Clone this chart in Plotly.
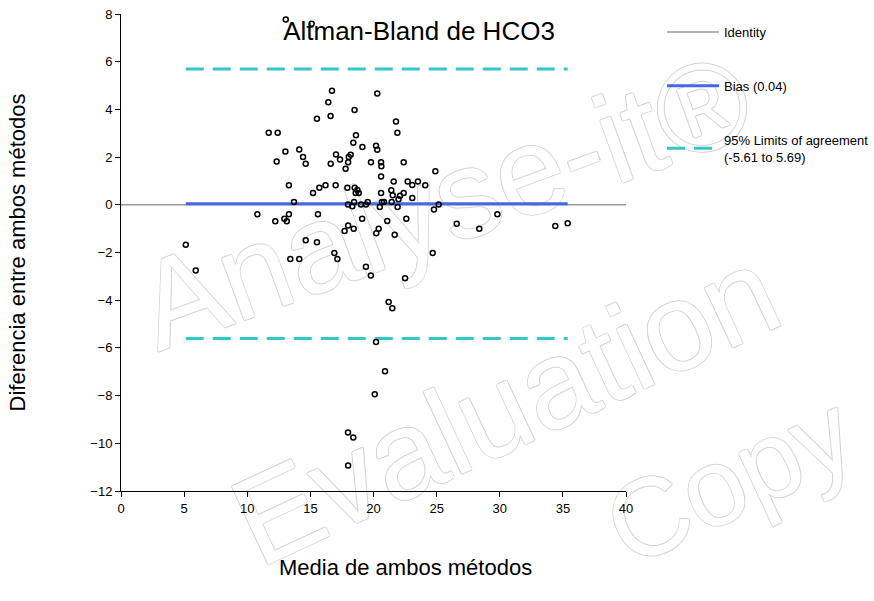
import plotly.graph_objects as go

# ---- data ----
mean_vals = [13.05, 15.10, 16.71, 16.42, 16.60, 15.52, 18.50, 11.70, 12.41, 18.61,
             20.30, 21.78, 21.89, 13.02, 14.12, 14.42, 18.40, 19.12, 20.20, 20.30,
             17.03, 18.19, 18.04, 17.35, 12.33, 14.63, 16.61, 17.99, 17.79, 19.80,
             20.60, 20.62, 22.39, 20.60, 24.90, 13.30, 15.71, 16.20, 17.00, 15.21,
             17.93, 18.51, 18.59, 18.83, 18.72, 20.60, 21.60, 21.41, 21.52, 22.10,
             22.39, 22.71, 23.07, 23.52, 24.10, 21.98, 23.07, 13.70, 18.46, 17.98,
             18.32, 19.01, 19.40, 19.54, 20.67, 20.83, 20.50, 21.44, 21.91, 25.16,
             24.79, 10.80, 12.22, 12.94, 13.13, 13.30, 15.60, 17.99, 17.71, 18.43,
             19.10, 21.09, 20.41, 20.22, 22.60, 21.68, 14.63, 15.52, 5.13, 5.92,
             13.41, 14.12, 26.59, 24.69, 16.90, 17.14, 19.40, 19.79, 22.50, 21.20,
             21.49, 29.81, 28.38, 34.40, 35.38, 20.20, 20.91, 20.10, 17.98, 18.40,
             17.99]
diff_vals = [7.77, 7.59, 4.78, 4.30, 3.72, 3.61, 3.98, 3.02, 3.02, 2.92,
             4.67, 3.49, 3.02, 2.23, 2.32, 2.00, 2.60, 2.42, 2.48, 2.31,
             2.11, 2.10, 2.00, 1.90, 1.82, 1.72, 1.72, 1.78, 1.51, 1.78,
             1.78, 1.62, 1.78, 1.19, 1.41, 0.82, 0.72, 0.82, 0.82, 0.49,
             0.72, 0.72, 0.49, 0.49, 0.62, 0.49, 0.98, 0.61, 0.40, 0.38,
             0.49, 0.98, 0.83, 0.98, 0.82, 0.23, 0.29, 0.12, 0.12, 0.01,
             -0.06, 0.01, 0.01, 0.12, 0.12, 0.12, -0.09, 0.12, -0.09, 0.01,
             -0.20, -0.40, -0.69, -0.58, -0.69, -0.40, -0.40, -0.87, -1.10, -1.00,
             -0.58, -0.68, -1.00, -1.19, -0.58, -1.26, -1.49, -1.57, -1.68, -2.75,
             -2.27, -2.27, -0.79, -2.02, -2.02, -2.27, -2.60, -2.96, -3.08, -4.08,
             -4.34, -0.40, -1.00, -0.89, -0.77, -5.75, -6.98, -7.94, -9.55, -9.76,
             -10.93]

bias = 0.04
loa_lower = -5.61
loa_upper = 5.69
identity_x = [0, 40]
identity_y = [0, 0]

chart_title = "Altman-Bland de HCO3"
x_title = "Media de ambos métodos"
y_title = "Diferencia entre ambos métodos"
identity_name = "Identity"
bias_name = f"Bias ({bias:.2f})"
loa_name = f"95% Limits of agreement<br>({loa_lower:.2f} to {loa_upper:.2f})"

watermark_texts = ["Analyse-it®", "Evaluation", "Copy"]

FONT = "Liberation Sans, Arial, sans-serif"

xmin, xmax = min(mean_vals), max(mean_vals)

fig = go.Figure()

fig.add_trace(go.Scatter(
    x=identity_x, y=identity_y, mode="lines", name=identity_name,
    line=dict(color="#9a9a9a", width=1.5), legendgroup="a", hoverinfo="skip"))
fig.add_trace(go.Scatter(
    x=[xmin, xmax], y=[bias, bias], mode="lines", name=bias_name,
    line=dict(color="#4169e8", width=3), legendgroup="b", hoverinfo="skip"))
fig.add_trace(go.Scatter(
    x=[xmin, xmax, None, xmin, xmax], y=[loa_upper, loa_upper, None, loa_lower, loa_lower],
    mode="lines", name=loa_name,
    line=dict(color="#33c7c7", width=3, dash="18px,9px"), legendgroup="c", hoverinfo="skip"))
fig.add_trace(go.Scatter(
    x=mean_vals, y=diff_vals, mode="markers", showlegend=False,
    marker=dict(symbol="circle-open", size=5, color="black", line=dict(width=1.5, color="black"))))

# watermark (light outlined text, below the data)
wm_pos = [(440, 190, -20, 125), (500, 395, -25, 125), (725, 470, -25, 110)]
for txt, (px, py, ang, sz) in zip(watermark_texts, wm_pos):
    fx = (px - 121) / 505
    fy = (491 - py) / 477
    fig.add_shape(type="rect", xref="paper", yref="paper",
                  x0=fx - 0.01, x1=fx + 0.01, y0=fy - 0.01, y1=fy + 0.01,
                  line=dict(width=0), fillcolor="rgba(0,0,0,0)", layer="below",
                  label=dict(text=txt, textangle=ang, textposition="middle center",
                             font=dict(family=FONT, size=sz, color="white",
                                       shadow="1px 0 0 #d4d4d4, -1px 0 0 #d4d4d4, 0 1px 0 #d4d4d4, 0 -1px 0 #d4d4d4")))

# x axis title, placed as in the reference
fig.add_annotation(text=x_title, xref="paper", yref="paper",
                   x=(405 - 121) / 505, y=(491 - 567) / 477, xanchor="center", yanchor="middle",
                   showarrow=False, font=dict(family=FONT, size=22, color="black"))

fig.update_layout(
    width=874, height=601,
    margin=dict(l=121, r=248, t=14, b=110, autoexpand=False),
    paper_bgcolor="white", plot_bgcolor="rgba(0,0,0,0)",
    font=dict(family=FONT, color="black", size=13),
    title=dict(text=chart_title, x=419 / 874, xref="container", xanchor="center",
               y=1 - 31 / 601, yref="container", yanchor="middle",
               font=dict(family=FONT, size=26, color="black")),
    showlegend=True,
    legend=dict(x=(662 - 121) / 505, xanchor="left", y=1 - 3 / 477, yanchor="top",
                bgcolor="rgba(0,0,0,0)", font=dict(family=FONT, size=13, color="black"),
                itemwidth=52, tracegroupgap=34, traceorder="grouped"),
    xaxis=dict(range=[0, 40], dtick=5, tick0=0, showgrid=False, zeroline=False,
               showline=True, linecolor="black", linewidth=1, ticks="outside",
               ticklen=5, tickcolor="black", tickfont=dict(size=13)),
    yaxis=dict(range=[-12, 8], dtick=2, tick0=0, showgrid=False, zeroline=False,
               showline=True, linecolor="black", linewidth=1, ticks="outside",
               ticklen=5, tickcolor="black", tickfont=dict(size=13),
               title=dict(text=y_title, font=dict(size=22), standoff=58)),
)

fig.write_html("out.html")
